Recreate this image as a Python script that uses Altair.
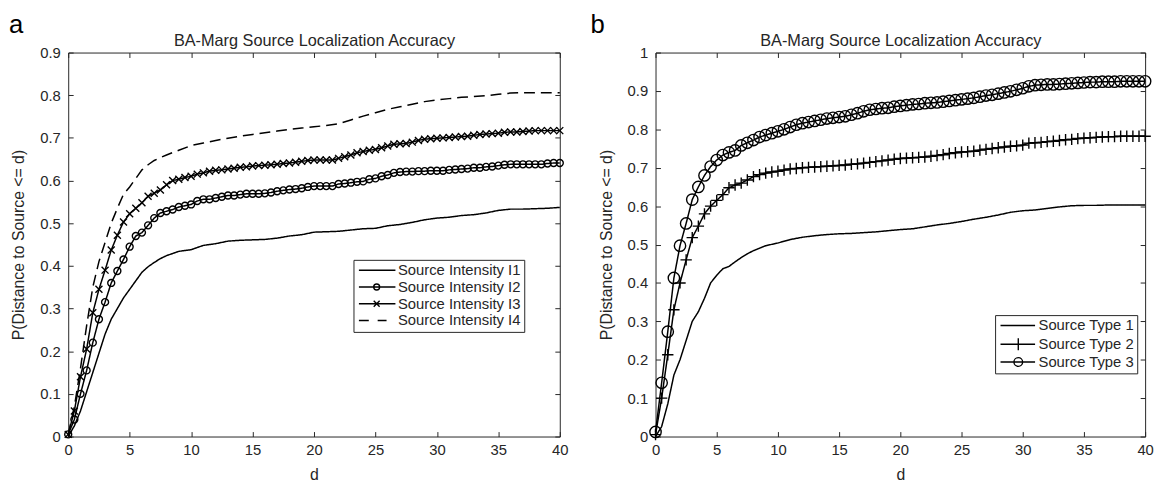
import altair as alt
import pandas as pd

FONT = "Liberation Sans"
INK = "#262626"

# distance grid of the marker series (markers every 0.5)
D_MARK = [0, 0.5, 1, 1.5, 2, 2.5, 3, 3.5, 4, 4.5,
          5, 5.5, 6, 6.5, 7, 7.5, 8, 8.5, 9, 9.5,
          10, 10.5, 11, 11.5, 12, 12.5, 13, 13.5, 14, 14.5,
          15, 15.5, 16, 16.5, 17, 17.5, 18, 18.5, 19, 19.5,
          20, 20.5, 21, 21.5, 22, 22.5, 23, 23.5, 24, 24.5,
          25, 25.5, 26, 26.5, 27, 27.5, 28, 28.5, 29, 29.5,
          30, 30.5, 31, 31.5, 32, 32.5, 33, 33.5, 34, 34.5,
          35, 35.5, 36, 36.5, 37, 37.5, 38, 38.5, 39, 39.5,
          40]
# distance grid of the plain line series
D_LINE = [0, 0.5, 1, 1.5, 2, 2.5, 3, 3.5, 4, 4.5, 5, 5.5, 6, 6.5, 7, 7.5, 8,
          9, 10, 11, 12, 13, 14, 15, 16, 17, 18, 19, 20, 21, 22, 23, 24,
          25, 26, 27, 28, 29, 30, 31, 32, 33, 34, 35, 36, 37, 38, 39, 40]

# ---- panel a ----
A_I1 = [0, 0.025, 0.06, 0.105, 0.15, 0.195, 0.24, 0.275, 0.30, 0.325, 0.345, 0.365, 0.385, 0.398, 0.408, 0.417, 0.424,
        0.434, 0.438, 0.448, 0.452, 0.458, 0.46, 0.461, 0.462, 0.465, 0.47, 0.473, 0.479, 0.48, 0.481, 0.484, 0.487,
        0.488, 0.494, 0.497, 0.502, 0.508, 0.512, 0.514, 0.518, 0.52, 0.524, 0.53, 0.533, 0.533, 0.534, 0.535, 0.537]
A_I2 = [0.005, 0.04, 0.10, 0.155, 0.22, 0.275, 0.315, 0.36, 0.388, 0.415,
        0.445, 0.47, 0.478, 0.495, 0.512, 0.524, 0.528, 0.532, 0.538, 0.541,
        0.544, 0.552, 0.556, 0.556, 0.559, 0.562, 0.565, 0.565, 0.567, 0.569,
        0.569, 0.569, 0.570, 0.572, 0.575, 0.577, 0.579, 0.580, 0.582, 0.585,
        0.587, 0.587, 0.587, 0.587, 0.592, 0.593, 0.595, 0.597, 0.598, 0.603,
        0.605, 0.610, 0.613, 0.618, 0.620, 0.621, 0.621, 0.622, 0.622, 0.623,
        0.623, 0.623, 0.625, 0.626, 0.627, 0.628, 0.630, 0.630, 0.632, 0.633,
        0.635, 0.637, 0.638, 0.638, 0.638, 0.638, 0.638, 0.638, 0.640, 0.641,
        0.641]
A_I3 = [0.005, 0.06, 0.14, 0.205, 0.29, 0.345, 0.39, 0.437, 0.472, 0.503,
        0.522, 0.535, 0.548, 0.563, 0.57, 0.578, 0.59, 0.60, 0.603, 0.607,
        0.61, 0.615, 0.618, 0.622, 0.624, 0.625, 0.627, 0.629, 0.631, 0.632,
        0.634, 0.635, 0.636, 0.637, 0.638, 0.64, 0.641, 0.643, 0.645, 0.647,
        0.648, 0.648, 0.648, 0.648, 0.652, 0.656, 0.66, 0.665, 0.668, 0.671,
        0.673, 0.677, 0.681, 0.685, 0.686, 0.687, 0.69, 0.694, 0.697, 0.698,
        0.699, 0.70, 0.701, 0.702, 0.703, 0.704, 0.706, 0.708, 0.709, 0.71,
        0.711, 0.713, 0.714, 0.714, 0.715, 0.716, 0.717, 0.717, 0.717, 0.717,
        0.717]
A_I4 = [0.005, 0.07, 0.16, 0.26, 0.35, 0.41, 0.455, 0.5, 0.535, 0.568, 0.585, 0.605, 0.625, 0.637, 0.647, 0.654, 0.66,
        0.671, 0.682, 0.688, 0.694, 0.699, 0.704, 0.708, 0.712, 0.716, 0.72, 0.723, 0.726, 0.729, 0.733, 0.742, 0.751,
        0.759, 0.767, 0.773, 0.779, 0.785, 0.789, 0.792, 0.795, 0.797, 0.799, 0.802, 0.805, 0.806, 0.806, 0.806, 0.806]

# ---- panel b ----
B_T1 = [0, 0.026, 0.085, 0.16, 0.2, 0.25, 0.3, 0.325, 0.36, 0.4, 0.42, 0.437, 0.443, 0.455, 0.466, 0.476, 0.484,
        0.497, 0.504, 0.513, 0.519, 0.523, 0.526, 0.528, 0.529, 0.531, 0.533, 0.536, 0.539, 0.541, 0.546, 0.551, 0.555,
        0.56, 0.566, 0.571, 0.577, 0.584, 0.588, 0.59, 0.594, 0.598, 0.601, 0.602, 0.602, 0.603, 0.603, 0.603, 0.603]
B_T2 = [0.005, 0.10, 0.213, 0.33, 0.40, 0.46, 0.518, 0.548, 0.58, 0.60,
        0.615, 0.63, 0.648, 0.655, 0.66, 0.668, 0.677, 0.682, 0.686, 0.689,
        0.691, 0.694, 0.697, 0.698, 0.70, 0.701, 0.702, 0.703, 0.704, 0.705,
        0.706, 0.707, 0.709, 0.71, 0.712, 0.714, 0.716, 0.718, 0.72, 0.722,
        0.724, 0.725, 0.726, 0.727, 0.728, 0.73, 0.732, 0.734, 0.737, 0.739,
        0.741, 0.742, 0.743, 0.746, 0.748, 0.75, 0.752, 0.754, 0.756, 0.757,
        0.759, 0.764, 0.765, 0.766, 0.768, 0.769, 0.771, 0.773, 0.774, 0.776,
        0.777, 0.778, 0.779, 0.78, 0.781, 0.781, 0.782, 0.782, 0.782, 0.782,
        0.782]
B_T3 = [0.012, 0.14, 0.273, 0.413, 0.497, 0.555, 0.617, 0.65, 0.68, 0.703,
        0.72, 0.733, 0.74, 0.745, 0.758, 0.765, 0.772, 0.78, 0.785, 0.79,
        0.795, 0.8, 0.806, 0.812, 0.816, 0.819, 0.822, 0.825, 0.828, 0.83,
        0.832, 0.834, 0.838, 0.842, 0.847, 0.851, 0.853, 0.855, 0.856, 0.859,
        0.861, 0.863, 0.865, 0.866, 0.868, 0.869, 0.87, 0.872, 0.874, 0.876,
        0.878, 0.88, 0.882, 0.885, 0.888, 0.89, 0.893, 0.896, 0.899, 0.903,
        0.907, 0.912, 0.915, 0.916, 0.917, 0.917, 0.918, 0.919, 0.92, 0.921,
        0.922, 0.923, 0.923, 0.924, 0.924, 0.924, 0.925, 0.925, 0.925, 0.925,
        0.925]

NAMES_A = ["Source Intensity I1", "Source Intensity I2", "Source Intensity I3", "Source Intensity I4"]
NAMES_B = ["Source Type 1", "Source Type 2", "Source Type 3"]
XTICKS = [0, 5, 10, 15, 20, 25, 30, 35, 40]
YTICKS_A = [0, 0.1, 0.2, 0.3, 0.4, 0.5, 0.6, 0.7, 0.8, 0.9]
YTICKS_B = [0, 0.1, 0.2, 0.3, 0.4, 0.5, 0.6, 0.7, 0.8, 0.9, 1.0]
TITLE = "BA-Marg Source Localization Accuracy"

# marker / legend glyphs (custom symbol paths)
P_X = "M-1,-1L1,1M-1,1L1,-1"
P_PLUS = "M-1,0H1M0,-1V1"
LEG_A = ["M-1.25,0H8",
         "M-1.25,0H8M4,0A0.75,0.75 0 1,1 2.5,0A0.75,0.75 0 1,1 4,0",
         "M-1.25,0H8M2.5,-0.75L4,0.75M2.5,0.75L4,-0.75",
         "M-1.25,0H1.25M3.5,0H5.75"]
LEG_B = ["M-1.25,0H7.5",
         "M-1.25,0H7.5M3.25,-1.5V1.5",
         "M-1.25,0H7.5M4.35,0A1.1,1.1 0 1,1 2.15,0A1.1,1.1 0 1,1 4.35,0"]


def long_df(series):
    rows = []
    for name, ds, vs in series:
        for d, v in zip(ds, vs):
            rows.append({"d": d, "p": v, "series": name})
    return pd.DataFrame(rows)


def axis(orient, values, labels=True, title=None, **kw):
    opts = dict(orient=orient, values=values, labels=labels, grid=True,
                gridDash=[5, 3000], gridColor=INK, gridOpacity=1, gridWidth=1,
                ticks=False, domain=False, minExtent=0,
                labelFont=FONT, labelFontSize=15, labelColor=INK,
                titleFont=FONT, titleFontSize=16, titleFontWeight="normal", titleColor=INK)
    opts.update(kw)
    if title:
        return alt.Axis(title=title, **opts)
    return alt.Axis(title=None, **opts)


def panel(letter, letter_x, series, names, dash_range, mark_names, mark_shapes, mark_size,
          leg_paths, ymax, yticks, lx, ly, loff, w, h):
    df = long_df(series)
    dfm = df[df["series"].isin(mark_names)]
    xs = alt.Scale(domain=[0, 40], nice=False, zero=False)
    ys = alt.Scale(domain=[0, ymax], nice=False, zero=False)

    lines = alt.Chart(df).mark_line(strokeWidth=1.5, color="black").encode(
        x=alt.X("d:Q", scale=xs,
                axis=axis("bottom", XTICKS, title="d", labelPadding=6, labelFlush=False, titleY=31)),
        y=alt.Y("p:Q", scale=ys,
                axis=axis("left", yticks, title="P(Distance to Source <= d)", labelPadding=8,
                          format=".1~f", titleX=-42, titleY=h / 2)),
        detail="series:N",
        strokeDash=alt.StrokeDash("series:N", scale=alt.Scale(domain=names, range=dash_range), legend=None),
    )
    marks = alt.Chart(dfm).mark_point(filled=False, strokeWidth=1.4, color="black", size=mark_size, opacity=1).encode(
        x=alt.X("d:Q", scale=xs, axis=None),
        y=alt.Y("p:Q", scale=ys, axis=None),
        shape=alt.Shape("series:N", scale=alt.Scale(domain=mark_names, range=mark_shapes), legend=None),
    )
    legend_layer = alt.Chart(df).transform_filter("datum.d < 0").mark_point(
        filled=False, strokeWidth=1.4, color="black", size=64, opacity=1).encode(
        x=alt.X("d:Q", scale=xs,
                axis=axis("top", XTICKS, labels=False, title=TITLE, titleFontSize=16.5,
                          titleBaseline="alphabetic", titleY=-7)),
        y=alt.Y("p:Q", scale=ys, axis=axis("right", yticks, labels=False)),
        shape=alt.Shape("series:N", scale=alt.Scale(domain=names, range=leg_paths),
                        legend=alt.Legend(orient="none", legendX=lx, legendY=ly, title=None,
                                          symbolSize=64, symbolStrokeWidth=1.4, symbolStrokeColor="black",
                                          symbolOpacity=1, labelFont=FONT, labelFontSize=15,
                                          labelColor=INK, labelOffset=loff, rowPadding=1, padding=3,
                                          strokeColor=INK, fillColor="white", cornerRadius=0)),
    )
    tag = alt.Chart(pd.DataFrame({"t": [letter]})).mark_text(
        font=FONT, fontSize=26, align="left", baseline="alphabetic", color="black").encode(
        text="t:N", x=alt.value(letter_x), y=alt.value(-20))

    return alt.layer(lines, marks, legend_layer, tag).resolve_scale(
        shape="independent").resolve_axis(x="independent", y="independent").properties(
        width=w, height=h)


pa = panel("a", -60,
           [(NAMES_A[0], D_LINE, A_I1), (NAMES_A[1], D_MARK, A_I2),
            (NAMES_A[2], D_MARK, A_I3), (NAMES_A[3], D_LINE, A_I4)],
           NAMES_A, [[1, 0], [1, 0], [1, 0], [11, 6]],
           NAMES_A[1:3], ["circle", P_X], 50, LEG_A, 0.9, YTICKS_A,
           289, 210, 27, 498, 389)
pb = panel("b", -66,
           [(NAMES_B[0], D_LINE, B_T1), (NAMES_B[1], D_MARK, B_T2), (NAMES_B[2], D_MARK, B_T3)],
           NAMES_B, [[1, 0], [1, 0], [1, 0]],
           NAMES_B[1:3], [P_PLUS, "circle"], 132, LEG_B, 1.0, YTICKS_B,
           344, 266, 26, 496, 389)

chart = alt.hconcat(pa, pb, spacing=21).properties(
    padding={"left": 0, "top": 0, "right": 0, "bottom": 0}
).configure_view(stroke=INK, strokeWidth=1)

chart.save("out.html", embed_options={"renderer": "svg", "actions": False})
